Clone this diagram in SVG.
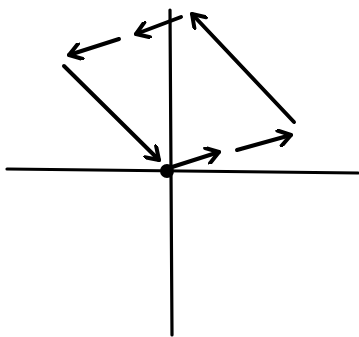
<svg xmlns="http://www.w3.org/2000/svg" width="359" height="337" viewBox="0 0 359 337">
<style>
.ax{stroke:#000;stroke-width:3.2;fill:none;stroke-linecap:round}
.ar{stroke:#000;stroke-width:4;fill:none;stroke-linecap:round;marker-end:url(#h)}
</style>
<defs>
<marker id="h" markerUnits="userSpaceOnUse" viewBox="-14 -9 18 18" refX="0" refY="0" markerWidth="18" markerHeight="18" orient="auto">
<path d="M-12,-8 L0,0 L-12,8" fill="none" stroke="#000" stroke-width="4" stroke-linecap="round" stroke-linejoin="round"/>
</marker>
</defs>
<rect width="359" height="337" fill="#fff"/>
<g id="axes">
<path class="ax" d="M7,169 L358,173"/>
<path class="ax" d="M170,10 L172,335"/>
</g>
<g id="origin"><circle cx="167" cy="171" r="7" fill="#000"/></g>
<g id="connectors">
<path class="ar" d="M169,168 L219,152"/>
<path class="ar" d="M237,150 L291,135"/>
<path class="ar" d="M294,122 L192,14"/>
<path class="ar" d="M181,17 L136,34"/>
<path class="ar" d="M119,39 L69,55"/>
<path class="ar" d="M64,66 L159,160"/>
</g>
</svg>
